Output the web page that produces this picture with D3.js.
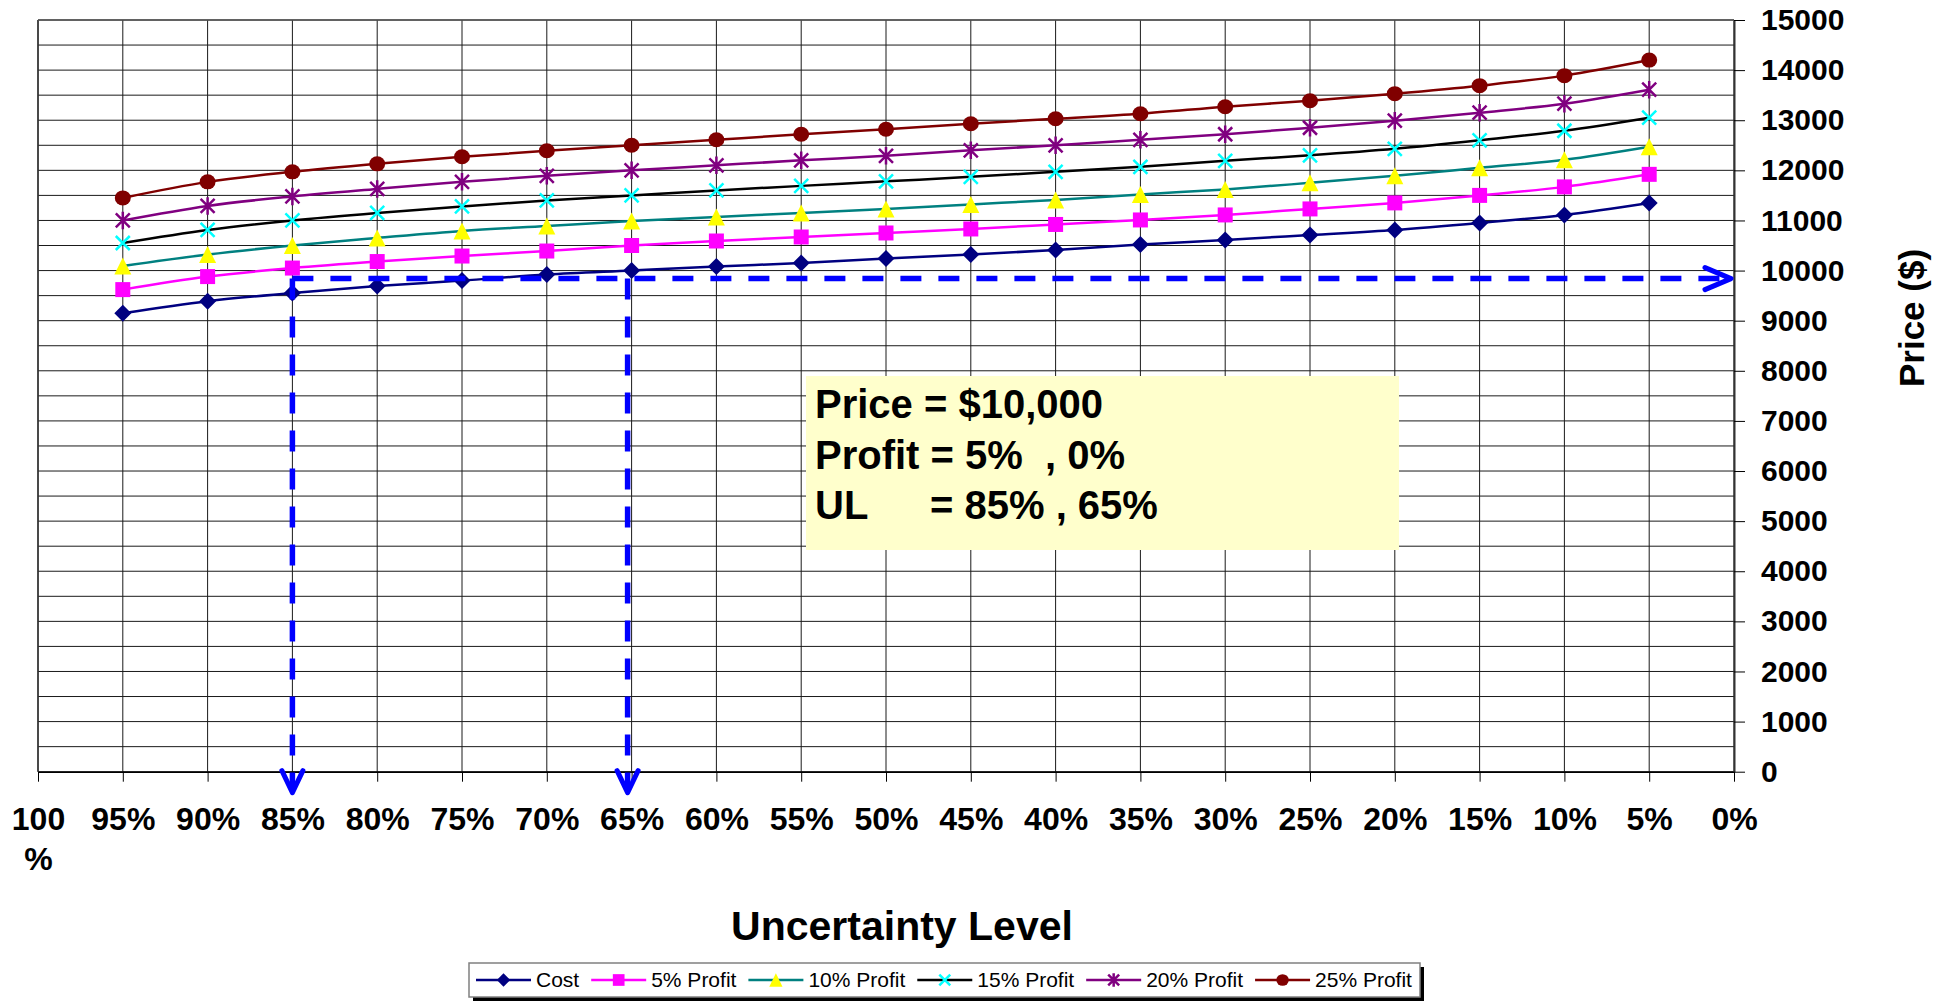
<!DOCTYPE html>
<html>
<head>
<meta charset="utf-8">
<script src="https://cdn.jsdelivr.net/npm/d3@7"></script>
<style>
  body { margin: 0; background: #fff; }
  svg { display: block; font-family: "Liberation Sans", Arial, sans-serif; }
</style>
</head>
<body>
<svg id="chart" width="1953" height="1002"></svg>
<script>
// uncertainty level (%) of each point, left to right
var uncertaintyLevels = [95, 90, 85, 80, 75, 70, 65, 60, 55, 50, 45, 40, 35, 30, 25, 20, 15, 10, 5];

var costValues     = [9150, 9390, 9550, 9690, 9800, 9920, 10000, 10080, 10150, 10240, 10320, 10410, 10520, 10610, 10710, 10810, 10950, 11110, 11350];
var profit5Values  = [9620, 9880, 10050, 10180, 10290, 10390, 10500, 10590, 10670, 10750, 10830, 10920, 11010, 11110, 11230, 11350, 11500, 11670, 11920];
var profit10Values = [10090, 10320, 10500, 10650, 10790, 10890, 10990, 11070, 11150, 11230, 11320, 11410, 11520, 11620, 11750, 11890, 12050, 12210, 12470];
var profit15Values = [10550, 10810, 11000, 11150, 11280, 11400, 11500, 11600, 11690, 11780, 11870, 11970, 12070, 12190, 12300, 12430, 12600, 12790, 13050];
var profit20Values = [11000, 11290, 11480, 11630, 11770, 11890, 12000, 12100, 12200, 12290, 12400, 12500, 12610, 12720, 12850, 12990, 13150, 13330, 13610];
var profit25Values = [11450, 11770, 11970, 12130, 12270, 12390, 12500, 12610, 12720, 12820, 12930, 13030, 13130, 13270, 13390, 13530, 13690, 13890, 14200];

var seriesNames = ["Cost", "5% Profit", "10% Profit", "15% Profit", "20% Profit", "25% Profit"];
var seriesValues = [costValues, profit5Values, profit10Values, profit15Values, profit20Values, profit25Values];
var lineColors = ["#000080", "#FF00FF", "#008080", "#000000", "#800080", "#800000"];
var markerColors = ["#000080", "#FF00FF", "#FFFF00", "#00FFFF", "#800080", "#800000"];
var markerTypes = ["diamond", "square", "triangle", "x", "star", "circle"];

var xTicks = [100, 95, 90, 85, 80, 75, 70, 65, 60, 55, 50, 45, 40, 35, 30, 25, 20, 15, 10, 5, 0];
var xTickLabels = ["100 %", "95%", "90%", "85%", "80%", "75%", "70%", "65%", "60%", "55%", "50%", "45%", "40%", "35%", "30%", "25%", "20%", "15%", "10%", "5%", "0%"];
var yTicks = d3.range(0, 15001, 1000);
var yGrid = d3.range(0, 15001, 500);

// annotation: read-off price level and the two uncertainty levels
var arrowPrice = 9840;
var arrowLevels = [85, 65];
var noteLines = ["Price = $10,000", "Profit = 5%  , 0%"];
var noteLastLabel = "UL";
var noteLastValue = "= 85% , 65%";

var svg = d3.select("#chart");
var plotLeft = 38, plotRight = 1734, plotTop = 20, plotBottom = 771.7;

var x = d3.scaleLinear().domain([100, 0]).range([plotLeft, plotRight]);
var y = d3.scaleLinear().domain([0, 15000]).range([plotBottom, plotTop]);

// grid
svg.append("g")
	.selectAll("line")
	.data(yGrid)
	.enter()
	.append("line")
	.attr("x1", plotLeft).attr("x2", plotRight)
	.attr("y1", d => y(d)).attr("y2", d => y(d))
	.attr("stroke", "#1a1a1a")
	.attr("stroke-width", 1);

svg.append("g")
	.selectAll("line")
	.data(xTicks)
	.enter()
	.append("line")
	.attr("x1", d => x(d)).attr("x2", d => x(d))
	.attr("y1", plotTop).attr("y2", plotBottom)
	.attr("stroke", "#1a1a1a")
	.attr("stroke-width", 1);

// x axis
var xAxis = svg.append("g")
	.attr("transform", "translate(0," + plotBottom + ")")
	.call(d3.axisBottom(x).tickValues(xTicks).tickSize(10).tickSizeOuter(0).tickFormat(""));
xAxis.select(".domain").attr("stroke", "#000").attr("stroke-width", 1.5);
xAxis.selectAll(".tick line").attr("stroke", "#000");
xAxis.selectAll(".tick text").remove();
xAxis.selectAll(".tick")
	.append("text")
	.attr("fill", "#000")
	.attr("text-anchor", "middle")
	.attr("font-size", 32)
	.attr("font-weight", "bold")
	.each(function(d, i) {
		var parts = xTickLabels[i].split(" ");
		var t = d3.select(this);
		parts.forEach((p, j) => {
			t.append("tspan").attr("x", 0).attr("y", 58 + j * 40).text(p);
		});
	});

// y axis on the right
var yAxis = svg.append("g")
	.attr("transform", "translate(" + plotRight + ",0)")
	.call(d3.axisRight(y).tickValues(yTicks).tickSize(11).tickSizeOuter(0).tickPadding(16).tickFormat(d3.format("d")));
yAxis.select(".domain").attr("stroke", "#333").attr("stroke-width", 2);
yAxis.selectAll(".tick line").attr("stroke", "#000");
yAxis.selectAll(".tick text")
	.attr("fill", "#000")
	.attr("font-size", 30)
	.attr("font-weight", "bold")
	.attr("font-family", "'Liberation Sans', Arial, sans-serif");

svg.append("line")
	.attr("x1", plotLeft).attr("x2", plotLeft).attr("y1", plotTop).attr("y2", plotBottom)
	.attr("stroke", "#333").attr("stroke-width", 1.5);
svg.append("line")
	.attr("x1", plotLeft).attr("x2", plotRight).attr("y1", plotTop).attr("y2", plotTop)
	.attr("stroke", "#555").attr("stroke-width", 1.5);

// axis titles
svg.append("text")
	.attr("x", 902).attr("y", 940)
	.attr("text-anchor", "middle")
	.attr("font-size", 41)
	.attr("font-weight", "bold")
	.text("Uncertainty Level");

svg.append("text")
	.attr("transform", "translate(1924,318) rotate(-90)")
	.attr("text-anchor", "middle")
	.attr("font-size", 35)
	.attr("font-weight", "bold")
	.text("Price ($)");

// markers
function markerPath(type, s) {
	if (type === "diamond") return "M0," + (-s) + "L" + s + ",0L0," + s + "L" + (-s) + ",0Z";
	if (type === "square") return "M" + (-s) + "," + (-s) + "H" + s + "V" + s + "H" + (-s) + "Z";
	if (type === "triangle") return "M0," + (-s) + "L" + s + "," + s + "L" + (-s) + "," + s + "Z";
	if (type === "x") return "M" + (-s) + "," + (-s) + "L" + s + "," + s + "M" + (-s) + "," + s + "L" + s + "," + (-s);
	if (type === "star") return "M" + (-s) + "," + (-s) + "L" + s + "," + s + "M" + (-s) + "," + s + "L" + s + "," + (-s) + "M0," + (-s * 1.25) + "V" + (s * 1.25);
	return "";
}

function drawMarker(g, type, color, cx, cy, scale) {
	var k = scale || 1;
	if (type === "circle") {
		g.append("ellipse")
			.attr("cx", cx).attr("cy", cy)
			.attr("rx", 8 * k).attr("ry", 7.5 * k)
			.attr("fill", color);
	} else if (type === "x" || type === "star") {
		g.append("path")
			.attr("transform", "translate(" + cx + "," + cy + ")")
			.attr("d", markerPath(type, 7 * k))
			.attr("fill", "none")
			.attr("stroke", color)
			.attr("stroke-width", 2.5);
	} else {
		var s = type === "diamond" ? 8.5 : (type === "square" ? 7.5 : 8.5);
		g.append("path")
			.attr("transform", "translate(" + cx + "," + cy + ")")
			.attr("d", markerPath(type, s * k))
			.attr("fill", color);
	}
}

var line = d3.line()
	.x(d => x(d[0]))
	.y(d => y(d[1]))
	.curve(d3.curveCatmullRom.alpha(0.5));

seriesValues.forEach((vals, si) => {
	var pts = uncertaintyLevels.map((u, i) => [u, vals[i]]);
	var g = svg.append("g");
	g.append("path")
		.datum(pts)
		.attr("d", line)
		.attr("fill", "none")
		.attr("stroke", lineColors[si])
		.attr("stroke-width", 2.5);
	pts.forEach(p => drawMarker(g, markerTypes[si], markerColors[si], x(p[0]), y(p[1])));
});

// dashed read-off arrows
var blue = "#0000FF";
var ay = y(arrowPrice);
var tipX = plotRight - 3;
var tipY = plotBottom + 21;
var arrows = svg.append("g");

arrows.append("line")
	.attr("x1", x(arrowLevels[0])).attr("x2", tipX - 4)
	.attr("y1", ay).attr("y2", ay)
	.attr("stroke", blue).attr("stroke-width", 5.5)
	.attr("stroke-dasharray", "21,17");
arrows.append("polyline")
	.attr("points", [[tipX - 26, ay - 11], [tipX, ay], [tipX - 26, ay + 11]].join(" "))
	.attr("fill", "none").attr("stroke", blue).attr("stroke-width", 5)
	.attr("stroke-linecap", "round").attr("stroke-linejoin", "round");

arrowLevels.forEach((lv, i) => {
	var ax = x(lv) - (i === 1 ? 4 : 0);
	arrows.append("line")
		.attr("x1", ax).attr("x2", ax)
		.attr("y1", ay).attr("y2", tipY - 4)
		.attr("stroke", blue).attr("stroke-width", 5.5)
		.attr("stroke-dasharray", "21,17");
	arrows.append("polyline")
		.attr("points", [[ax - 10.5, tipY - 22], [ax, tipY], [ax + 10.5, tipY - 22]].join(" "))
		.attr("fill", "none").attr("stroke", blue).attr("stroke-width", 5)
		.attr("stroke-linecap", "round").attr("stroke-linejoin", "round");
});

// note box
var note = svg.append("g");
note.append("rect")
	.attr("x", 806).attr("y", 376).attr("width", 593).attr("height", 174)
	.attr("fill", "#FFFFCC");
noteLines.forEach((t, i) => {
	note.append("text")
		.attr("x", 815).attr("y", 418 + i * 50.5)
		.attr("font-size", 40)
		.attr("font-weight", "bold")
		.style("white-space", "pre")
		.text(t);
});
note.append("text")
	.attr("x", 815).attr("y", 519)
	.attr("font-size", 40).attr("font-weight", "bold")
	.text(noteLastLabel);
note.append("text")
	.attr("x", 930).attr("y", 519)
	.attr("font-size", 40).attr("font-weight", "bold")
	.text(noteLastValue);

// legend
var legend = svg.append("g");
var lx = 469, ly = 963, lw = 951, lh = 34;
legend.append("rect")
	.attr("x", lx + 4).attr("y", ly + 4).attr("width", lw).attr("height", lh)
	.attr("fill", "#000");
legend.append("rect")
	.attr("x", lx).attr("y", ly).attr("width", lw).attr("height", lh)
	.attr("fill", "#fff").attr("stroke", "#808080").attr("stroke-width", 1.5);

var cx = 476, cy = ly + lh / 2;
seriesNames.forEach((name, si) => {
	var g = legend.append("g");
	g.append("line")
		.attr("x1", cx).attr("x2", cx + 55)
		.attr("y1", cy).attr("y2", cy)
		.attr("stroke", lineColors[si]).attr("stroke-width", 2.5);
	drawMarker(g, markerTypes[si], markerColors[si], cx + 27.5, cy, 0.78);
	var t = g.append("text")
		.attr("x", cx + 60).attr("y", cy)
		.attr("dy", "0.35em")
		.attr("font-size", 21)
		.text(name);
	cx += 60 + t.node().getComputedTextLength() + 12;
});
</script>
</body>
</html>
